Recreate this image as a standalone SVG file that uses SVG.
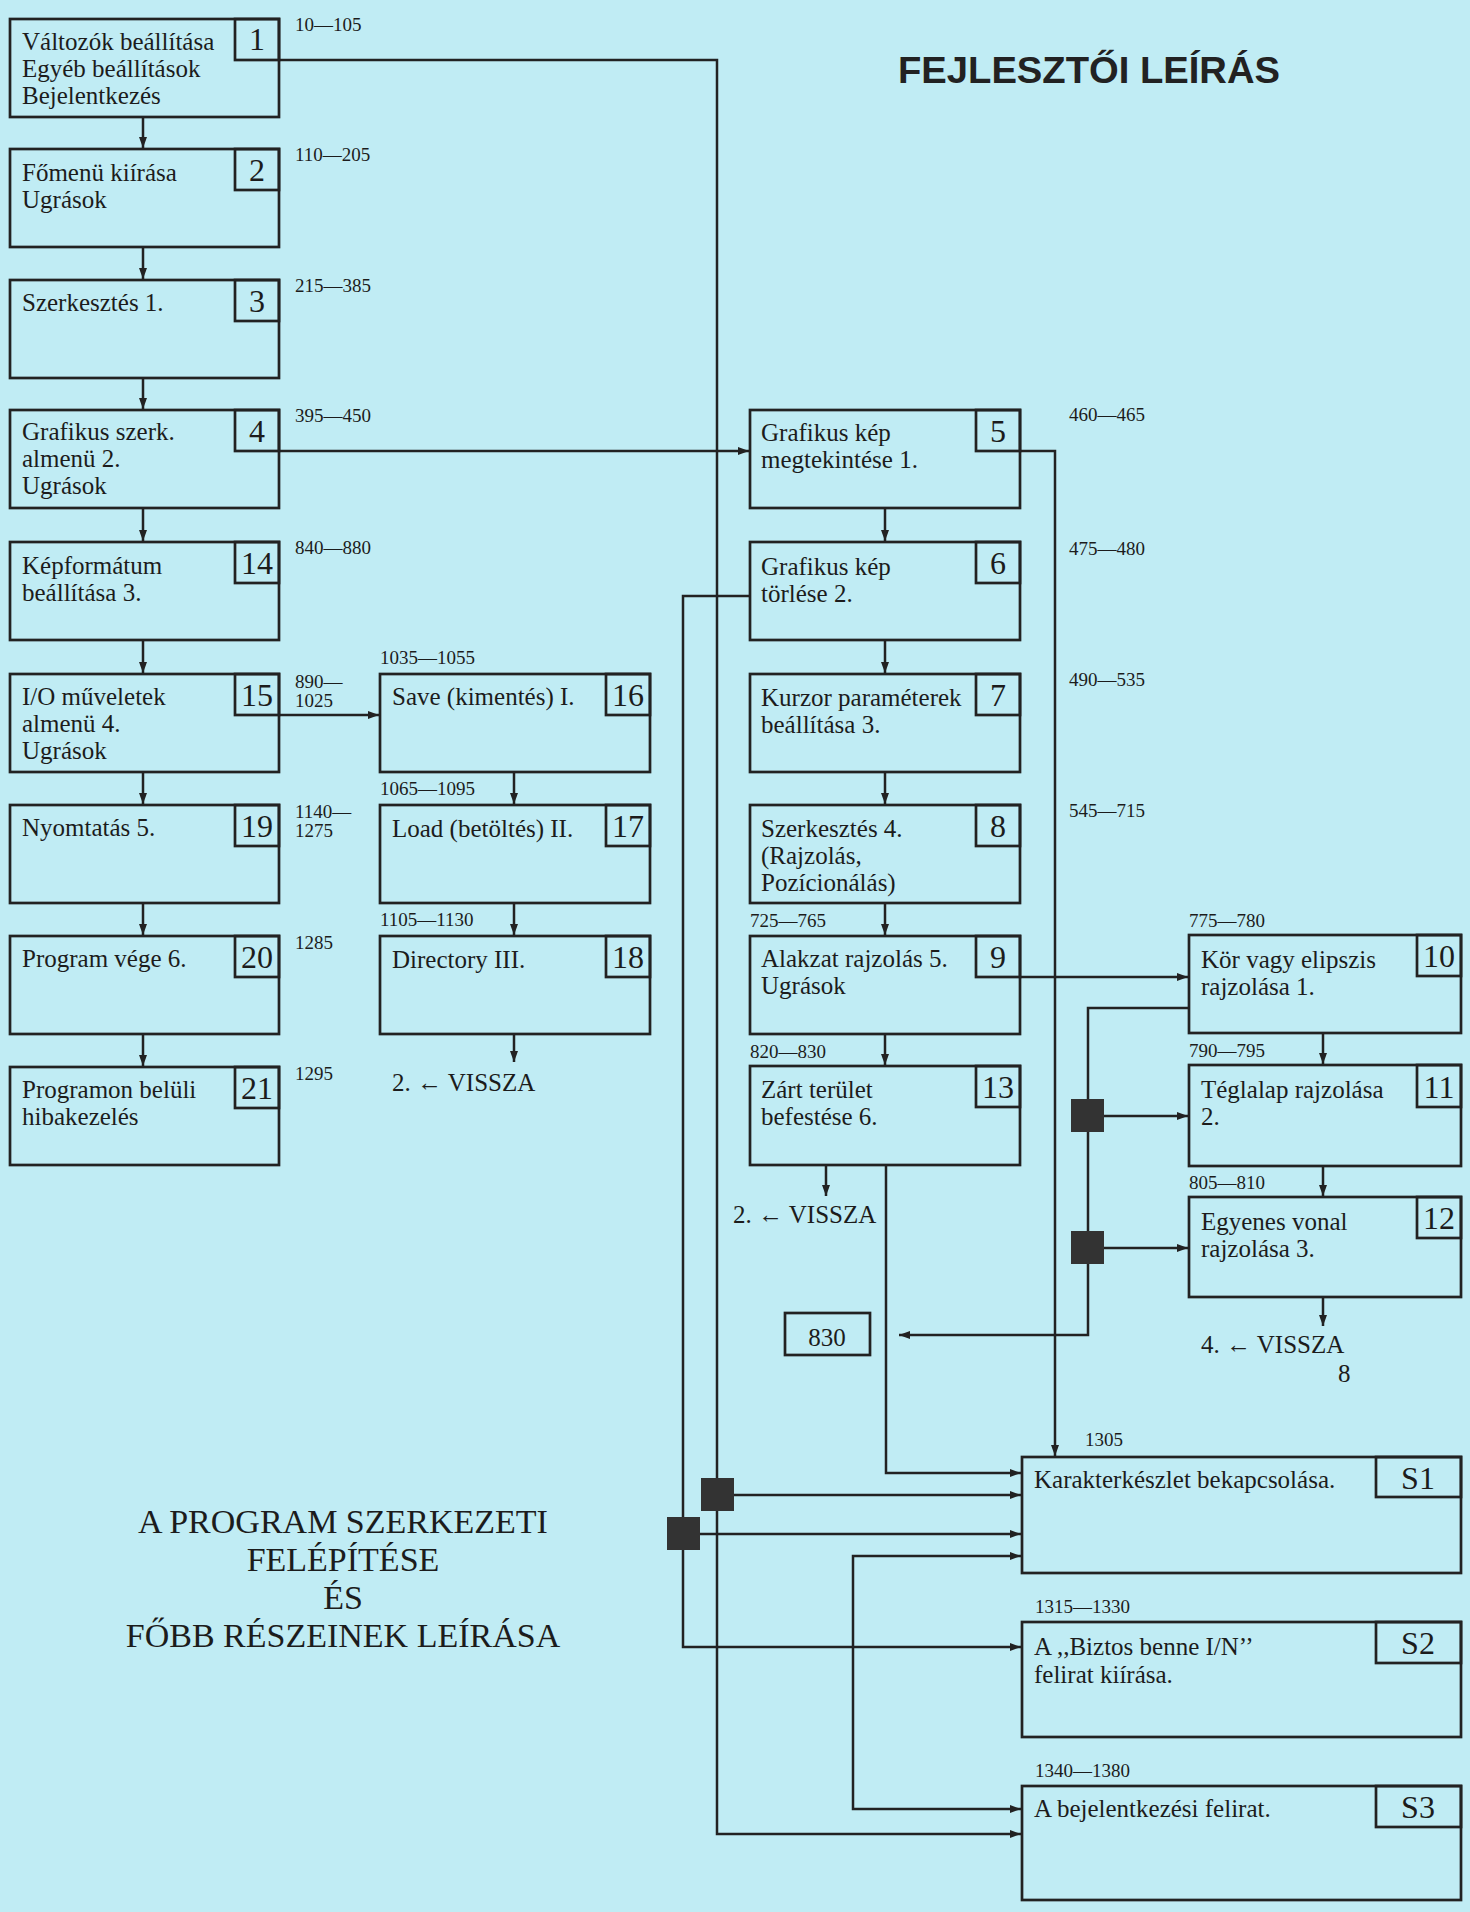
<svg xmlns="http://www.w3.org/2000/svg" width="1470" height="1912" viewBox="0 0 1470 1912">
<style>
.bg{fill:#c0ecf4}
.box{fill:none;stroke:#222;stroke-width:2.7}
.t{font-family:"Liberation Serif","Times New Roman",serif;font-size:25px;fill:#1c1c1c}
.n{font-family:"Liberation Serif","Times New Roman",serif;font-size:32px;fill:#1c1c1c;text-anchor:middle}
.s{font-family:"Liberation Serif","Times New Roman",serif;font-size:32px;fill:#1c1c1c;text-anchor:middle}
.l{font-family:"Liberation Serif","Times New Roman",serif;font-size:19px;fill:#1c1c1c}
.c{fill:none;stroke:#222;stroke-width:2.5}
.a{marker-end:url(#ah)}
.sq{fill:#333}
.big{font-family:"Liberation Serif","Times New Roman",serif;font-size:34px;fill:#1c1c1c;text-anchor:middle}
</style>
<defs>
<marker id="ah" markerUnits="userSpaceOnUse" markerWidth="11" markerHeight="8" refX="11" refY="4" orient="auto">
<path d="M0,0 L11,4 L0,8 z" fill="#222"/>
</marker>
</defs>
<rect class="bg" x="0" y="0" width="1470" height="1912"/>

<text x="898" y="83" font-family="'Liberation Sans',Arial,sans-serif" font-weight="bold" font-size="37" fill="#222" textLength="382" lengthAdjust="spacingAndGlyphs">FEJLESZTŐI LEÍRÁS</text>

<g id="title2">
<text class="big" x="343" y="1533">A PROGRAM SZERKEZETI</text>
<text class="big" x="343" y="1571">FELÉPÍTÉSE</text>
<text class="big" x="343" y="1609">ÉS</text>
<text class="big" x="343" y="1647">FŐBB RÉSZEINEK LEÍRÁSA</text>
</g>

<g id="connectors">
<path class="c a" d="M279,60 H717 V1834 H1021"/>
<path class="c a" d="M279,451 H749"/>
<path class="c a" d="M1020,451 H1055 V1456"/>
<path class="c a" d="M750,596 H683 V1647 H1021"/>
<path class="c a" d="M700,1534 H1021"/>
<path class="c a" d="M734,1495 H1021"/>
<path class="c a" d="M886,1165 V1473 H1021"/>
<path class="c a" d="M853,1680 V1556 H1021"/>
<path class="c a" d="M853,1680 V1809 H1021"/>
<path class="c a" d="M279,715 H379"/>
<path class="c a" d="M1020,977 H1188"/>
<path class="c a" d="M1189,1008 H1088 V1335 H899"/>
<path class="c a" d="M1104,1116 H1188"/>
<path class="c a" d="M1104,1248 H1188"/>
<path class="c a" d="M143,117 V148"/>
<path class="c a" d="M143,247 V279"/>
<path class="c a" d="M143,378 V409"/>
<path class="c a" d="M143,508 V541"/>
<path class="c a" d="M143,640 V673"/>
<path class="c a" d="M143,772 V804"/>
<path class="c a" d="M143,903 V935"/>
<path class="c a" d="M143,1034 V1066"/>
<path class="c a" d="M514,772 V804"/>
<path class="c a" d="M514,903 V935"/>
<path class="c a" d="M514,1034 V1062"/>
<path class="c a" d="M885,508 V541"/>
<path class="c a" d="M885,640 V673"/>
<path class="c a" d="M885,772 V804"/>
<path class="c a" d="M885,903 V935"/>
<path class="c a" d="M885,1034 V1065"/>
<path class="c a" d="M826,1165 V1196"/>
<path class="c a" d="M1323,1033 V1064"/>
<path class="c a" d="M1323,1166 V1196"/>
<path class="c a" d="M1323,1297 V1326"/>
<rect class="sq" x="701" y="1478" width="33" height="33"/>
<rect class="sq" x="667" y="1517" width="33" height="33"/>
<rect class="sq" x="1071" y="1099" width="33" height="33"/>
<rect class="sq" x="1071" y="1231" width="33" height="33"/>
</g>

<g id="n1"><rect class="box" x="10" y="19" width="269" height="98"/><rect class="box" x="235" y="19" width="44" height="41"/><text class="n" x="257" y="50">1</text><text class="t" x="22" y="50">Változók beállítása</text><text class="t" x="22" y="77">Egyéb beállítások</text><text class="t" x="22" y="104">Bejelentkezés</text><text class="l" x="295" y="31">10—105</text></g>
<g id="n2"><rect class="box" x="10" y="149" width="269" height="98"/><rect class="box" x="235" y="149" width="44" height="41"/><text class="n" x="257" y="181">2</text><text class="t" x="22" y="181">Főmenü kiírása</text><text class="t" x="22" y="208">Ugrások</text><text class="l" x="295" y="161">110—205</text></g>
<g id="n3"><rect class="box" x="10" y="280" width="269" height="98"/><rect class="box" x="235" y="280" width="44" height="41"/><text class="n" x="257" y="312">3</text><text class="t" x="22" y="311">Szerkesztés 1.</text><text class="l" x="295" y="292">215—385</text></g>
<g id="n4"><rect class="box" x="10" y="410" width="269" height="98"/><rect class="box" x="235" y="410" width="44" height="41"/><text class="n" x="257" y="442">4</text><text class="t" x="22" y="440">Grafikus szerk.</text><text class="t" x="22" y="467">almenü 2.</text><text class="t" x="22" y="494">Ugrások</text><text class="l" x="295" y="422">395—450</text></g>
<g id="n14"><rect class="box" x="10" y="542" width="269" height="98"/><rect class="box" x="235" y="542" width="44" height="41"/><text class="n" x="257" y="574">14</text><text class="t" x="22" y="574">Képformátum</text><text class="t" x="22" y="601">beállítása 3.</text><text class="l" x="295" y="554">840—880</text></g>
<g id="n15"><rect class="box" x="10" y="674" width="269" height="98"/><rect class="box" x="235" y="674" width="44" height="41"/><text class="n" x="257" y="706">15</text><text class="t" x="22" y="705">I/O műveletek</text><text class="t" x="22" y="732">almenü 4.</text><text class="t" x="22" y="759">Ugrások</text><text class="l" x="295" y="688">890—</text><text class="l" x="295" y="707">1025</text></g>
<g id="n19"><rect class="box" x="10" y="805" width="269" height="98"/><rect class="box" x="235" y="805" width="44" height="41"/><text class="n" x="257" y="837">19</text><text class="t" x="22" y="836">Nyomtatás 5.</text><text class="l" x="295" y="818">1140—</text><text class="l" x="295" y="837">1275</text></g>
<g id="n20"><rect class="box" x="10" y="936" width="269" height="98"/><rect class="box" x="235" y="936" width="44" height="41"/><text class="n" x="257" y="968">20</text><text class="t" x="22" y="967">Program vége 6.</text><text class="l" x="295" y="949">1285</text></g>
<g id="n21"><rect class="box" x="10" y="1067" width="269" height="98"/><rect class="box" x="235" y="1067" width="44" height="41"/><text class="n" x="257" y="1099">21</text><text class="t" x="22" y="1098">Programon belüli</text><text class="t" x="22" y="1125">hibakezelés</text><text class="l" x="295" y="1080">1295</text></g>

<g id="n16"><rect class="box" x="380" y="674" width="270" height="98"/><rect class="box" x="606" y="674" width="44" height="41"/><text class="n" x="628" y="706">16</text><text class="t" x="392" y="705">Save (kimentés) I.</text><text class="l" x="380" y="664">1035—1055</text></g>
<g id="n17"><rect class="box" x="380" y="805" width="270" height="98"/><rect class="box" x="606" y="805" width="44" height="41"/><text class="n" x="628" y="837">17</text><text class="t" x="392" y="837">Load (betöltés) II.</text><text class="l" x="380" y="795">1065—1095</text></g>
<g id="n18"><rect class="box" x="380" y="936" width="270" height="98"/><rect class="box" x="606" y="936" width="44" height="41"/><text class="n" x="628" y="968">18</text><text class="t" x="392" y="968">Directory III.</text><text class="l" x="380" y="926">1105—1130</text></g>
<text class="t" x="392" y="1091">2. ← VISSZA</text>

<g id="n5"><rect class="box" x="750" y="410" width="270" height="98"/><rect class="box" x="976" y="410" width="44" height="41"/><text class="n" x="998" y="442">5</text><text class="t" x="761" y="441">Grafikus kép</text><text class="t" x="761" y="468">megtekintése 1.</text><text class="l" x="1069" y="421">460—465</text></g>
<g id="n6"><rect class="box" x="750" y="542" width="270" height="98"/><rect class="box" x="976" y="542" width="44" height="41"/><text class="n" x="998" y="574">6</text><text class="t" x="761" y="575">Grafikus kép</text><text class="t" x="761" y="602">törlése 2.</text><text class="l" x="1069" y="555">475—480</text></g>
<g id="n7"><rect class="box" x="750" y="674" width="270" height="98"/><rect class="box" x="976" y="674" width="44" height="41"/><text class="n" x="998" y="706">7</text><text class="t" x="761" y="706">Kurzor paraméterek</text><text class="t" x="761" y="733">beállítása 3.</text><text class="l" x="1069" y="686">490—535</text></g>
<g id="n8"><rect class="box" x="750" y="805" width="270" height="98"/><rect class="box" x="976" y="805" width="44" height="41"/><text class="n" x="998" y="837">8</text><text class="t" x="761" y="837">Szerkesztés 4.</text><text class="t" x="761" y="864">(Rajzolás,</text><text class="t" x="761" y="891">Pozícionálás)</text><text class="l" x="1069" y="817">545—715</text></g>
<g id="n9"><rect class="box" x="750" y="936" width="270" height="98"/><rect class="box" x="976" y="936" width="44" height="41"/><text class="n" x="998" y="968">9</text><text class="t" x="761" y="967">Alakzat rajzolás 5.</text><text class="t" x="761" y="994">Ugrások</text><text class="l" x="750" y="927">725—765</text></g>
<g id="n13"><rect class="box" x="750" y="1066" width="270" height="99"/><rect class="box" x="976" y="1066" width="44" height="41"/><text class="n" x="998" y="1098">13</text><text class="t" x="761" y="1098">Zárt terület</text><text class="t" x="761" y="1125">befestése 6.</text><text class="l" x="750" y="1058">820—830</text></g>
<text class="t" x="733" y="1223">2. ← VISSZA</text>

<g id="n830"><rect class="box" x="785" y="1313" width="85" height="42"/><text class="t" x="827" y="1346" text-anchor="middle">830</text></g>

<g id="n10"><rect class="box" x="1189" y="935" width="272" height="98"/><rect class="box" x="1417" y="935" width="44" height="41"/><text class="n" x="1439" y="967">10</text><text class="t" x="1201" y="968">Kör vagy elipszis</text><text class="t" x="1201" y="995">rajzolása 1.</text><text class="l" x="1189" y="927">775—780</text></g>
<g id="n11"><rect class="box" x="1189" y="1065" width="272" height="101"/><rect class="box" x="1417" y="1065" width="44" height="42"/><text class="n" x="1439" y="1098">11</text><text class="t" x="1201" y="1098">Téglalap rajzolása</text><text class="t" x="1201" y="1125">2.</text><text class="l" x="1189" y="1057">790—795</text></g>
<g id="n12"><rect class="box" x="1189" y="1197" width="272" height="100"/><rect class="box" x="1417" y="1197" width="44" height="41"/><text class="n" x="1439" y="1229">12</text><text class="t" x="1201" y="1230">Egyenes vonal</text><text class="t" x="1201" y="1257">rajzolása 3.</text><text class="l" x="1189" y="1189">805—810</text></g>
<text class="t" x="1201" y="1353">4. ← VISSZA</text>
<text class="t" x="1338" y="1382" font-size="22">8</text>

<g id="S1"><rect class="box" x="1022" y="1457" width="439" height="116"/><rect class="box" x="1376" y="1457" width="85" height="40"/><text class="s" x="1418" y="1489">S1</text><text class="t" x="1034" y="1488">Karakterkészlet bekapcsolása.</text><text class="l" x="1085" y="1446">1305</text></g>
<g id="S2"><rect class="box" x="1022" y="1622" width="439" height="115"/><rect class="box" x="1376" y="1622" width="85" height="41"/><text class="s" x="1418" y="1654">S2</text><text class="t" x="1034" y="1655">A ,,Biztos benne I/N’’</text><text class="t" x="1034" y="1683">felirat kiírása.</text><text class="l" x="1035" y="1613">1315—1330</text></g>
<g id="S3"><rect class="box" x="1022" y="1786" width="439" height="114"/><rect class="box" x="1376" y="1786" width="85" height="41"/><text class="s" x="1418" y="1818">S3</text><text class="t" x="1034" y="1817">A bejelentkezési felirat.</text><text class="l" x="1035" y="1777">1340—1380</text></g>
</svg>
